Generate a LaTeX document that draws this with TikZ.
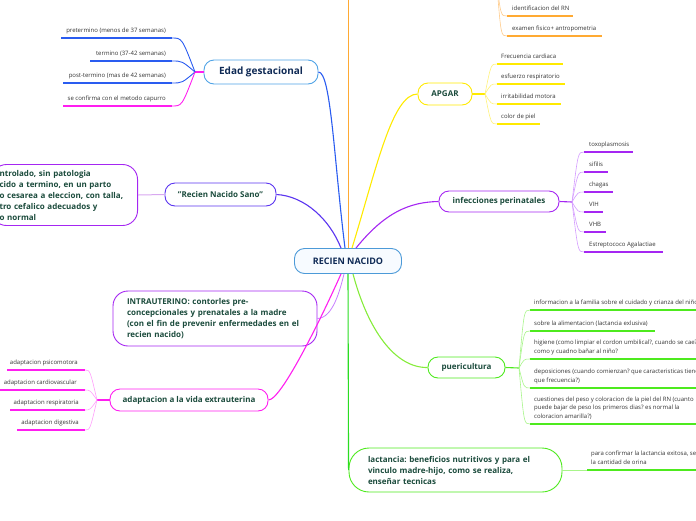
\documentclass[tikz,border=0pt]{standalone}
\usepackage{fontspec}
\setmainfont{Open Sans}
\definecolor{cNavy}{HTML}{0F2A55}
\definecolor{cDk}{HTML}{1B4B3C}
\definecolor{cLeaf}{HTML}{333333}
\definecolor{cRNb}{HTML}{4C9AD8}
\definecolor{cRNf}{HTML}{F7FBFF}
\definecolor{cEdb}{HTML}{4FA3E6}
\definecolor{cBlue}{HTML}{2A5CF0}
\definecolor{cViolet}{HTML}{5A34F0}
\definecolor{cPurple}{HTML}{A526F2}
\definecolor{cPurpleL}{HTML}{D49CFF}
\definecolor{cPurpleM}{HTML}{C67CFF}
\definecolor{cSanoL}{HTML}{D8A8F0}
\definecolor{cMag}{HTML}{FF1EF0}
\definecolor{cMagL}{HTML}{FF9CFA}
\definecolor{cYellow}{HTML}{FFEA00}
\definecolor{cYellowL}{HTML}{FFF27A}
\definecolor{cOrange}{HTML}{FFAA33}
\definecolor{cOrangeL}{HTML}{FFCB8A}
\definecolor{cGreen}{HTML}{4EEA1E}
\definecolor{cGreenD}{HTML}{2ADD22}
\definecolor{cGreenL}{HTML}{A8F58A}
\definecolor{cLime}{HTML}{86EC3A}
\begin{document}
\frenchspacing
\begin{tikzpicture}[x=1pt,y=-1pt,
  topic/.style={draw, line width=0.9pt, fill=white, rounded corners=10pt, inner sep=0pt, align=center, text=cDk, font=\fontsize{8}{11}\selectfont\bfseries},
  desc/.style={topic, align=left, inner ysep=0pt, rounded corners=15pt},
  leafe/.style={inner sep=0pt, text=cLeaf, font=\fontsize{6}{8.5}\selectfont, execute at end node={\rule[-1.6pt]{0pt}{0pt}}},
  leafR/.style={leafe, anchor=south west, align=left},
  leafL/.style={leafe, anchor=south east, align=right},
  leafP/.style={leafR, font=\fontsize{6}{8.3}\selectfont},
  uline/.style={line width=1.4pt},
  bline/.style={line width=0.6pt},
  conn/.style={line width=1.1pt},
]
\useasboundingbox (0,0) rectangle (696,520);

% ---------- topic nodes ----------
\node[topic, draw=cRNb, fill=cRNf, text=cNavy, font=\fontsize{9}{11}\selectfont\bfseries, minimum width=107pt, minimum height=25pt] (rn) at (348,261) {RECIEN NACIDO};
\node[topic, draw=cEdb, text=cNavy, font=\fontsize{10}{12}\selectfont\bfseries, minimum width=114pt, minimum height=24pt] (edad) at (261,72) {Edad gestacional};
\node[topic, draw=cViolet, minimum width=111pt, minimum height=23pt] (sano) at (220.5,194.5) {"Recien Nacido Sano"};
\node[topic, draw=cYellow, minimum width=54pt, minimum height=22pt] (apgar) at (445,94) {APGAR};
\node[topic, draw=cPurple, minimum width=120pt, minimum height=21pt] (infec) at (499,201.5) {infecciones perinatales};
\node[topic, draw=cMag, minimum width=158pt, minimum height=22pt] (adapt) at (189,400) {adaptacion a la vida extrauterina};
\node[topic, draw=cGreen, minimum width=77pt, minimum height=21pt] (pueri) at (466.5,367.5) {puericultura};
\node[desc, draw=cPurple, text width=176pt, inner xsep=14pt, minimum height=55pt] (intra) at (215,318.5) {INTRAUTERINO: contorles pre-\\concepcionales y prenatales a la madre\\(con el fin de prevenir enfermedades en el\\recien nacido)};
\node[desc, draw=cGreen, text width=175pt, inner xsep=19pt, minimum height=44pt, rounded corners=20pt] (lact) at (455.5,470) {lactancia: beneficios nutritivos y para el\\vinculo madre-hijo, como se realiza,\\enseñar tecnicas};
\node[desc, draw=cPurple, anchor=east, text width=130pt, inner xsep=8pt, minimum height=61pt] (sanodesc) at (138,195) {ntrolado, sin patologia\\cido a termino, en un parto\\o cesarea a eleccion, con talla,\\tro cefalico adecuados y\\o normal};

% ---------- anchor points on the central node ----------
\coordinate (rnVi) at ([xshift=-7pt]rn.north);
\coordinate (rnBl) at ([xshift=-3pt]rn.north);
\coordinate (rnOr) at ([xshift=0.5pt]rn.north);
\coordinate (rnYe) at ([xshift=4pt]rn.north);
\coordinate (rnPu) at ([xshift=8pt]rn.north);
\coordinate (rnMa) at ([xshift=-7pt]rn.south);
\coordinate (rnIn) at ([xshift=-4pt]rn.south);
\coordinate (rnGr) at ([xshift=0pt]rn.south);
\coordinate (rnLi) at ([xshift=5pt]rn.south);
\coordinate (orTop) at (348.5,-2);

% ---------- main connectors ----------
\draw[conn, cOrange, line width=1.4pt] (rnOr) -- (orTop);
\draw[conn, cBlue] (edad.east) .. controls (331,72) and (334,160) .. (rnBl);
\draw[conn, cViolet] (sano.east) .. controls (305,196) and (330,220) .. (rnVi);
\draw[conn, cYellow] (rnYe) .. controls (376,170) and (392,94) .. (apgar.west);
\draw[conn, cPurple] (rnPu) .. controls (385,212) and (410,202) .. (infec.west);
\draw[conn, cPurpleM, line width=0.8pt] (intra.east) .. controls (333,318) and (340,290) .. (rnIn);
\draw[conn, cMag] (adapt.east) .. controls (282,400) and (325,310) .. (rnMa);
\draw[conn, cLime] (rnLi) .. controls (368,330) and (395,368) .. (pueri.west);
\draw[conn, cGreenD] (rnGr) -- (lact.west);
\draw[line width=1pt, cSanoL] (sano.west) -- (sanodesc.east);

% ---------- Edad gestacional leaves ----------
\coordinate (eJ) at (195,72);
\draw[conn, cMag] (edad.west) -- (eJ);
\coordinate (e1r) at (172,38); \coordinate (e1l) at (61,38);
\coordinate (e2r) at (172,61); \coordinate (e2l) at (90,61);
\coordinate (e3r) at (172,83); \coordinate (e3l) at (63,83);
\coordinate (e4r) at (172,106); \coordinate (e4l) at (63,106);
\node[leafL] (e1) at (166,34) {pretermino (menos de 37 semanas)};
\node[leafL] (e2) at (166,57) {termino (37-42 semanas)};
\node[leafL] (e3) at (166,79) {post-termino (mas de 42 semanas)};
\node[leafL] (e4) at (166,102) {se confirma con el metodo capurro};
\draw[uline, cBlue] (e1r) -- (e1l);
\draw[uline, cBlue] (e2r) -- (e2l);
\draw[uline, cBlue] (e3r) -- (e3l);
\draw[uline, cMag] (e4r) -- (e4l);
\draw[line width=0.9pt, cBlue] (eJ) .. controls (182,38) .. (e1r);
\draw[line width=0.9pt, cBlue] (eJ) .. controls (182,61) .. (e2r);
\draw[line width=0.9pt, cBlue] (eJ) .. controls (182,83) .. (e3r);
\draw[line width=0.9pt, cMag] (eJ) .. controls (182,106) .. (e4r);

% ---------- orange leaves (parent above the page) ----------
\coordinate (oJ) at (497,-14);
\coordinate (o1l) at (507,16); \coordinate (o1r) at (573,16);
\coordinate (o2l) at (507,36); \coordinate (o2r) at (602,36);
\node[leafR] (o1) at (512,12) {identificacion del RN};
\node[leafR] (o2) at (512,32) {examen fisico+ antropometria};
\draw[uline, cOrange] (o1l) -- (o1r);
\draw[uline, cOrange] (o2l) -- (o2r);
\draw[bline, cOrangeL] (oJ) .. controls (501,16) .. (o1l);
\draw[bline, cOrangeL] (oJ) .. controls (501,36) .. (o2l);

% ---------- APGAR leaves ----------
\coordinate (aJ) at (485,94);
\draw[conn, cYellow] (apgar.east) -- (aJ);
\coordinate (a1l) at (497,64); \coordinate (a1r) at (563,64);
\coordinate (a2l) at (497,84); \coordinate (a2r) at (565,84);
\coordinate (a3l) at (497,104); \coordinate (a3r) at (561,104);
\coordinate (a4l) at (497,124); \coordinate (a4r) at (540,124);
\node[leafR] (a1) at (501,60) {Frecuencia cardiaca};
\node[leafR] (a2) at (501,80) {esfuerzo respiratorio};
\node[leafR] (a3) at (501,100) {irritabilidad motora};
\node[leafR] (a4) at (501,120) {color de piel};
\draw[uline, cYellow] (a1l) -- (a1r);
\draw[uline, cYellow] (a2l) -- (a2r);
\draw[uline, cYellow] (a3l) -- (a3r);
\draw[uline, cYellow] (a4l) -- (a4r);
\draw[bline, cYellowL] (aJ) .. controls (491,64) .. (a1l);
\draw[bline, cYellowL] (aJ) .. controls (491,84) .. (a2l);
\draw[bline, cYellowL] (aJ) .. controls (491,104) .. (a3l);
\draw[bline, cYellowL] (aJ) .. controls (491,124) .. (a4l);

% ---------- infecciones leaves ----------
\coordinate (iJ) at (572,202);
\draw[conn, cPurple] (infec.east) -- (iJ);
\coordinate (i1l) at (584,152); \coordinate (i1r) at (633,152);
\coordinate (i2l) at (584,172); \coordinate (i2r) at (608,172);
\coordinate (i3l) at (584,192); \coordinate (i3r) at (613,192);
\coordinate (i4l) at (584,212); \coordinate (i4r) at (603,212);
\coordinate (i5l) at (584,232); \coordinate (i5r) at (606,232);
\coordinate (i6l) at (584,252); \coordinate (i6r) at (663,252);
\node[leafR] (i1) at (589,148) {toxoplasmosis};
\node[leafR] (i2) at (589,168) {sifilis};
\node[leafR] (i3) at (589,188) {chagas};
\node[leafR] (i4) at (589,208) {VIH};
\node[leafR] (i5) at (589,228) {VHB};
\node[leafR] (i6) at (589,248) {Estreptococo Agalactiae};
\foreach \k in {1,...,6}{\draw[uline, cPurple] (i\k l) -- (i\k r);}
\draw[bline, cPurpleL] (iJ) .. controls (578,152) .. (i1l);
\draw[bline, cPurpleL] (iJ) .. controls (578,172) .. (i2l);
\draw[bline, cPurpleL] (iJ) .. controls (578,192) .. (i3l);
\draw[bline, cPurpleL] (iJ) .. controls (578,212) .. (i4l);
\draw[bline, cPurpleL] (iJ) .. controls (578,232) .. (i5l);
\draw[bline, cPurpleL] (iJ) .. controls (578,252) .. (i6l);

% ---------- adaptacion leaves ----------
\coordinate (dJ) at (97,400);
\draw[conn, cMag] (adapt.west) -- (dJ);
\coordinate (d1r) at (85,370); \coordinate (d1l) at (7,370);
\coordinate (d2r) at (85,390); \coordinate (d2l) at (-2,390);
\coordinate (d3r) at (85,410); \coordinate (d3l) at (10,410);
\coordinate (d4r) at (85,430); \coordinate (d4l) at (17,430);
\node[leafL] (d1) at (78,366) {adaptacion psicomotora};
\node[leafL] (d2) at (77,386) {adaptacion cardiovascular};
\node[leafL] (d3) at (79,406) {adaptacion respiratoria};
\node[leafL] (d4) at (79,426) {adaptacion digestiva};
\foreach \k in {1,...,4}{\draw[uline, cMag] (d\k r) -- (d\k l);}
\draw[bline, cMagL] (dJ) .. controls (90,370) .. (d1r);
\draw[bline, cMagL] (dJ) .. controls (90,390) .. (d2r);
\draw[bline, cMagL] (dJ) .. controls (90,410) .. (d3r);
\draw[bline, cMagL] (dJ) .. controls (90,430) .. (d4r);

% ---------- puericultura leaves ----------
\coordinate (pJ) at (519,368);
\draw[conn, cGreen] (pueri.east) -- (pJ);
\coordinate (p1l) at (530,310); \coordinate (p1r) at (700,310);
\coordinate (p2l) at (530,331); \coordinate (p2r) at (655,331);
\coordinate (p3l) at (530,359); \coordinate (p3r) at (700,359);
\coordinate (p4l) at (530,388); \coordinate (p4r) at (700,388);
\coordinate (p5l) at (530,424); \coordinate (p5r) at (700,424);
\node[leafP] (p1) at (534,306) {informacion a la familia sobre el cuidado y crianza del niño};
\node[leafP] (p2) at (534,327) {sobre la alimentacion (lactancia exlusiva)};
\node[leafP] (p3) at (534,355) {higiene (como limpiar el cordon umbilical?, cuando se cae?\\como y cuadno bañar al niño?};
\node[leafP] (p4) at (534,384) {deposiciones (cuando comienzan? que caracteristicas tienen\\que frecuencia?)};
\node[leafP] (p5) at (534,420) {cuestiones del peso y coloracion de la piel del RN (cuanto\\puede bajar de peso los primeros dias? es normal la\\coloracion amarilla?)};
\foreach \k in {1,...,5}{\draw[uline, cGreen] (p\k l) -- (p\k r);}
\draw[bline, cGreenL] (pJ) .. controls (524,310) .. (p1l);
\draw[bline, cGreenL] (pJ) .. controls (524,331) .. (p2l);
\draw[bline, cGreenL] (pJ) .. controls (524,359) .. (p3l);
\draw[bline, cGreenL] (pJ) .. controls (524,388) .. (p4l);
\draw[bline, cGreenL] (pJ) .. controls (524,424) .. (p5l);

% ---------- lactancia leaf ----------
\coordinate (l1l) at (587,470); \coordinate (l1r) at (700,470);
\node[leafP] (l1) at (591,466) {para confirmar la lactancia exitosa, se\\la cantidad de orina};
\draw[line width=0.8pt, cGreenL] (lact.east) -- (l1l);
\draw[uline, cGreen] (l1l) -- (l1r);
\end{tikzpicture}
\end{document}
